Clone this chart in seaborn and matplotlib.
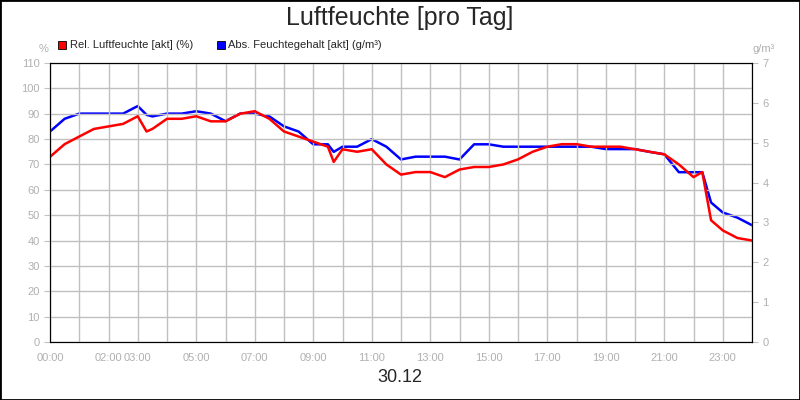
import numpy as np
import pandas as pd
import matplotlib
matplotlib.use("Agg")
from matplotlib import pyplot as plt
from matplotlib.patches import Rectangle
import seaborn as sns

sns.set_style("white")
plt.rcParams['font.family'] = ['Liberation Sans', 'DejaVu Sans']

# hours of day
hours = [0, 0.5, 1, 1.5, 2, 2.5, 3, 3.3, 3.5, 4, 4.5, 5, 5.5, 6, 6.5, 7, 7.5, 8, 8.5, 9,
         9.5, 9.7, 10, 10.5, 11, 11.5, 12, 12.5, 13, 13.5, 14, 14.5, 15, 15.5, 16, 16.5,
         17, 17.5, 18, 18.5, 19, 19.5, 20, 20.5, 21, 21.5, 22, 22.3, 22.6, 23, 23.5, 24]
rel_humidity = [73, 78, 81, 84, 85, 86, 89, 83, 84, 88, 88, 89, 87, 87, 90, 91, 88, 83, 81, 79,
                77, 71, 76, 75, 76, 70, 66, 67, 67, 65, 68, 69, 69, 70, 72, 75,
                77, 78, 78, 77, 77, 77, 76, 75, 74, 70, 65, 67, 48, 44, 41, 40]
abs_humidity = [5.28, 5.6, 5.73, 5.73, 5.73, 5.73, 5.92, 5.7, 5.66, 5.73, 5.73, 5.79, 5.73, 5.54, 5.73, 5.73, 5.66, 5.41, 5.28, 4.96,
                4.96, 4.77, 4.9, 4.9, 5.09, 4.9, 4.58, 4.65, 4.65, 4.65, 4.58, 4.96, 4.96, 4.9, 4.9, 4.9,
                4.9, 4.9, 4.9, 4.9, 4.84, 4.84, 4.84, 4.77, 4.71, 4.26, 4.26, 4.26, 3.5, 3.25, 3.12, 2.93]
tick_hours = [0, 2, 3, 5, 7, 9, 11, 13, 15, 17, 19, 21, 23]
tick_labels = ["00:00", "02:00", "03:00", "05:00", "07:00", "09:00", "11:00",
               "13:00", "15:00", "17:00", "19:00", "21:00", "23:00"]

df = pd.DataFrame({"h": hours, "rel": rel_humidity, "abs": abs_humidity})

fig = plt.figure(figsize=(8, 4), dpi=100)
fig.patches.append(Rectangle((0, 0), 1, 1, transform=fig.transFigure, fill=False,
                             edgecolor="black", linewidth=2))
ax = fig.add_axes([0.0625, 0.145, 0.8775, 0.6975])
ax2 = ax.twinx()

sns.lineplot(data=df, x="h", y="rel", ax=ax, color="#ff0000", linewidth=1.8)
sns.lineplot(data=df, x="h", y="abs", ax=ax2, color="#0000ff", linewidth=1.8)
ax.set_zorder(ax2.get_zorder() + 1)
ax.patch.set_visible(False)

ax.set_xlim(0, 24)
ax.set_ylim(0, 110)
ax2.set_ylim(0, 7)
ax.set_yticks(range(0, 111, 10))
ax2.set_yticks(range(0, 8))
ax.set_xticks(range(0, 25))
ax.set_xticklabels([tick_labels[tick_hours.index(h)] if h in tick_hours else "" for h in range(25)])
ax.grid(True, color="#c0c0c0", linewidth=1)
ax.set_xlabel("")
ax.set_ylabel("")
ax2.set_ylabel("")
for a in (ax, ax2):
    a.tick_params(colors="#c0c0c0", labelcolor="#b0b0b0", labelsize=8, length=4, direction="out")
    for s in a.spines.values():
        s.set_color("black")
ax.tick_params(axis="x", pad=4)

fig.text(0.5, 0.955, "Luftfeuchte [pro Tag]", ha="center", va="center", fontsize=18)
fig.text(0.5, 0.055, "30.12", ha="center", va="center", fontsize=13)
fig.text(0.054, 0.877, "%", ha="center", va="center", fontsize=8, color="#b0b0b0")
fig.text(0.955, 0.877, "g/m³", ha="center", va="center", fontsize=8, color="#b0b0b0")

fig.patches.append(Rectangle((0.073, 0.878), 0.01, 0.02, transform=fig.transFigure,
                             facecolor="#ff0000", edgecolor="black", linewidth=0.6))
fig.text(0.087, 0.888, "Rel. Luftfeuchte [akt] (%)", va="center", fontsize=8)
fig.patches.append(Rectangle((0.271, 0.878), 0.01, 0.02, transform=fig.transFigure,
                             facecolor="#0000ff", edgecolor="black", linewidth=0.6))
fig.text(0.285, 0.888, "Abs. Feuchtegehalt [akt] (g/m³)", va="center", fontsize=8)

fig.savefig("out.png", dpi=100)
